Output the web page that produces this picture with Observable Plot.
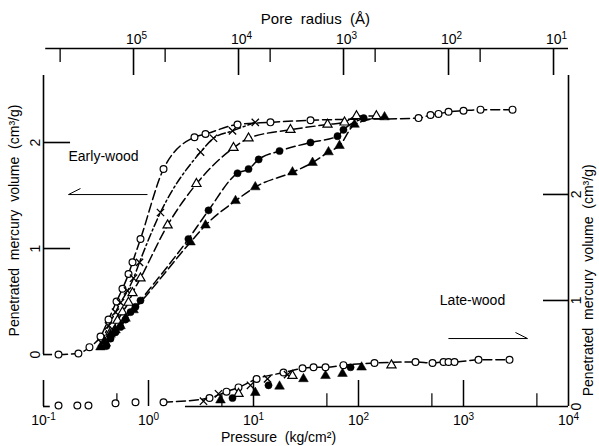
<!DOCTYPE html>
<html><head><meta charset="utf-8">
<script src="https://cdn.jsdelivr.net/npm/d3@7"></script>
<script src="https://cdn.jsdelivr.net/npm/@observablehq/plot@0.6"></script>
<style>body{margin:0;background:#fff}</style>
</head><body><div id="chart"></div>
<script>
// ---------- Early-wood (left axis, cm3/g) ----------
const earlyOpenCircleP = [0.139,0.215,0.274,0.349,0.416,0.496,0.565,0.645,0.704,0.839,1.39,2.74,3.49,7.04,14.5,34.9,373,485,578,720,1000,1452,2930];
const earlyOpenCircleV = [0.00,0.01,0.07,0.17,0.33,0.50,0.62,0.76,0.87,1.09,1.75,2.05,2.08,2.17,2.19,2.21,2.23,2.26,2.27,2.29,2.30,2.31,2.31];
const earlyCrossP = [0.357,0.416,0.485,0.541,0.631,0.720,0.821,1.30,3.13,4.16,6.31,10.4];
const earlyCrossV = [0.11,0.27,0.40,0.49,0.60,0.72,0.87,1.34,1.91,2.04,2.11,2.19];
const earlyOpenTriP = [0.389,0.435,0.507,0.565,0.645,0.704,0.839,1.52,2.86,6.45,8.97,22.5,50.7,73.6,95.7,148];
const earlyOpenTriV = [0.11,0.21,0.32,0.40,0.49,0.58,0.72,1.22,1.61,1.95,2.04,2.12,2.17,2.19,2.25,2.25];
const earlyFilledCircleP = [0.398,0.435,0.485,0.541,0.604,0.674,0.752,0.839,2.40,3.73,7.04,8.97,11.2,17.7,34.9,63.1,71.9,112];
const earlyFilledCircleV = [0.08,0.15,0.21,0.26,0.33,0.40,0.45,0.51,1.09,1.36,1.71,1.75,1.84,1.92,2.00,2.06,2.12,2.23];
const earlyFilledTriP = [0.349,0.381,0.435,0.485,0.541,0.604,0.720,2.51,3.49,6.74,10.4,23.5,36.5,51.8,65.9,91.6,177];
const earlyFilledTriV = [0.07,0.12,0.19,0.23,0.27,0.34,0.42,1.06,1.22,1.45,1.58,1.72,1.81,1.91,1.97,2.17,2.24];

// ---------- Late-wood (right axis, cm3/g) ----------
const lateOpenCircleP = [0.139,0.21,0.268,0.485,0.752,1.39,3.81,5.53,7.2,10.7,19.3,29.3,37.3,48.5,71.9,142,349,507,645,720,821,1389,2743];
const lateOpenCircleV = [0.01,0.01,0.01,0.03,0.04,0.04,0.08,0.14,0.18,0.26,0.32,0.36,0.37,0.37,0.39,0.41,0.42,0.41,0.42,0.42,0.42,0.44,0.44];
const lateCrossP = [3.34,4.64,9.36,13.6,21.1];
const lateCrossV = [0.05,0.12,0.20,0.26,0.30];
const lateOpenTriP = [7.2,23.5,206];
const lateOpenTriV = [0.12,0.29,0.39];
const lateFilledCircleP = [6.31,13.9,84];
const lateFilledCircleV = [0.08,0.20,0.37];
const lateFilledTriP = [4.85,10.4,17.7,29.9,48.5,70.4,107];
const lateFilledTriV = [0.06,0.13,0.19,0.26,0.29,0.31,0.37];

// ---------- Axes ----------
const rightAxisZero = -0.49;            // right-axis 0 expressed in left-axis units
const leftTicks = [0, 1, 2];
const rightTicks = [0, 1, 2];
const bottomMajor = [0.1, 1, 10, 100, 1000, 10000];
const bottomExponents = ["-1","0","1","2","3","4"];
const bottomMinor = [0.5, 5, 50, 500, 5000];
const radiusMajor = [1e5, 1e4, 1e3, 1e2, 1e1];
const radiusExponents = ["5","4","3","2","1"];
const radiusMinor = [5e5, 5e4, 5e3, 5e2, 5e1];
const washburnK = 72000;               // radius(Å) = K / pressure(kg/cm2)

const mk = (P, V, off = 0) => P.map((p, i) => ({p, v: V[i] + off}));
const eO = mk(earlyOpenCircleP, earlyOpenCircleV);
const eX = mk(earlyCrossP, earlyCrossV);
const eT = mk(earlyOpenTriP, earlyOpenTriV);
const eF = mk(earlyFilledCircleP, earlyFilledCircleV);
const eA = mk(earlyFilledTriP, earlyFilledTriV);
const lO = mk(lateOpenCircleP, lateOpenCircleV, rightAxisZero);
const lX = mk(lateCrossP, lateCrossV, rightAxisZero);
const lT = mk(lateOpenTriP, lateOpenTriV, rightAxisZero);
const lF = mk(lateFilledCircleP, lateFilledCircleV, rightAxisZero);
const lA = mk(lateFilledTriP, lateFilledTriV, rightAxisZero);

const yTop = 2.632, topAxisY = 2.887;
const font = "Liberation Sans, Arial, sans-serif";
const lineOpts = {x: "p", y: "v", stroke: "black", strokeWidth: 1.5, strokeDasharray: "9,4", curve: "monotone-x"};
const openOpts = (sym) => ({x: "p", y: "v", symbol: sym, r: 3.4, fill: "white", stroke: "black", strokeWidth: 1.2});
const fillOpts = (sym) => ({x: "p", y: "v", symbol: sym, r: 3.6, fill: "black", stroke: "black", strokeWidth: 0.5});
const crossOpts = {x: "p", y: "v", symbol: "times", r: 3.4, stroke: "black", strokeWidth: 1.3};
const SUP = "\u2063";  // marker separating base and exponent, replaced by tspan below

const chart = Plot.plot({
  width: 599, height: 446,
  marginLeft: 43, marginRight: 31, marginTop: 75, marginBottom: 40,
  x: {type: "log", domain: [0.1, 10000], axis: null},
  y: {domain: [rightAxisZero, yTop], axis: null},
  style: {fontFamily: font, background: "white"},
  marks: [
    // frame pieces
    Plot.ruleX([0.1], {y1: 0, y2: yTop, strokeWidth: 1.6}),
    Plot.ruleX([0.1], {y1: rightAxisZero, y2: rightAxisZero + 0.245, strokeWidth: 1.6}),
    Plot.ruleX([10000], {y1: rightAxisZero, y2: yTop, strokeWidth: 1.6}),
    Plot.ruleY([rightAxisZero], {x1: 2.25, x2: 10000, strokeWidth: 1.6}),
    Plot.ruleY([rightAxisZero], {x1: 0.1, x2: 0.116, strokeWidth: 1.6}),
    // bottom ticks
    Plot.ruleX(bottomMajor.slice(1, 5), {y1: rightAxisZero, y2: rightAxisZero + 0.245, strokeWidth: 1.5}),
    Plot.ruleX(bottomMinor, {y1: rightAxisZero, y2: rightAxisZero + 0.12, strokeWidth: 1.2}),
    Plot.text(bottomMajor, {x: d => d, y: rightAxisZero - 0.13, text: (d, i) => "10" + SUP + bottomExponents[i], fontSize: 14, fontFamily: font}),
    // left ticks
    Plot.ruleY(leftTicks.filter(d => d > 0), {x1: 0.1, x2: 0.181, strokeWidth: 1.6}),
    Plot.ruleY([0], {x1: 0.1, x2: 0.122, strokeWidth: 1.6}),
    Plot.text(leftTicks, {x: 0.084, y: d => d, text: d => String(d), rotate: -90, fontSize: 14, fontFamily: font}),
    // right ticks
    Plot.ruleY(rightTicks.filter(d => d > 0), {y: d => d + rightAxisZero, x1: 5780, x2: 10000, strokeWidth: 1.6}),
    Plot.text(rightTicks, {x: 11920, y: d => d + rightAxisZero, text: d => String(d), rotate: -90, fontSize: 14, fontFamily: font}),
    // top (pore radius) axis
    Plot.ruleY([topAxisY], {x1: 0.105, x2: 10000, strokeWidth: 1.6}),
    Plot.ruleX(radiusMajor, {x: r => washburnK / r, y1: yTop, y2: topAxisY, strokeWidth: 1.6}),
    Plot.ruleX(radiusMinor, {x: r => washburnK / r, y1: 2.755, y2: topAxisY, strokeWidth: 1.3}),
    Plot.text(radiusMajor, {x: r => washburnK / r, y: 2.972, text: (d, i) => "10" + SUP + radiusExponents[i], dx: 3, fontSize: 14, fontFamily: font}),
    // titles
    Plot.text(["Pore\u00A0 radius\u00A0 (\u00C5)"], {x: 38.9, y: 3.16, fontSize: 15, fontFamily: font}),
    Plot.text(["Pressure\u00A0 (kg/cm\u00B2)"], {x: 17.3, y: -0.783, fontSize: 14, fontFamily: font}),
    Plot.text(["Penetrated\u00A0 mercury\u00A0 volume\u00A0 (cm\u00B3/g)"], {x: 0.053, y: 1.264, rotate: -90, fontSize: 14, fontFamily: font}),
    Plot.text(["Penetrated\u00A0 mercury\u00A0 volume\u00A0 (cm\u00B3/g)"], {x: 15500, y: 0.70, rotate: -90, fontSize: 14, fontFamily: font}),
    // annotations
    Plot.text(["Early-wood"], {x: 0.173, y: 1.868, textAnchor: "start", fontSize: 14, fontFamily: font}),
    Plot.link([{x1: 0.978, x2: 0.173, y1: 1.509, y2: 1.509}], {x1: "x1", x2: "x2", y1: "y1", y2: "y2", strokeWidth: 1}),
    Plot.link([{x1: 0.225, x2: 0.173, y1: 1.566, y2: 1.509}], {x1: "x1", x2: "x2", y1: "y1", y2: "y2", strokeWidth: 1}),
    Plot.text(["Late-wood"], {x: 1218, y: 0.509, fontSize: 14, fontFamily: font}),
    Plot.link([{x1: 718, x2: 4070, y1: 0.151, y2: 0.151}], {x1: "x1", x2: "x2", y1: "y1", y2: "y2", strokeWidth: 1}),
    Plot.link([{x1: 3126, x2: 4070, y1: 0.208, y2: 0.151}], {x1: "x1", x2: "x2", y1: "y1", y2: "y2", strokeWidth: 1}),
    // curves
    Plot.line(eO, lineOpts),
    Plot.line(eX, {...lineOpts, strokeDasharray: "8,3,2,3"}),
    Plot.line(eT, lineOpts),
    Plot.line(eF, lineOpts),
    Plot.line(eA, lineOpts),
    Plot.line(lO.filter(d => d.p > 1), lineOpts),
    // markers
    Plot.dot(eO, openOpts("circle")),
    Plot.dot(eX, crossOpts),
    Plot.dot(eT, openOpts("triangle")),
    Plot.dot(eF, fillOpts("circle")),
    Plot.dot(eA, fillOpts("triangle")),
    Plot.dot(lO, openOpts("circle")),
    Plot.dot(lX, crossOpts),
    Plot.dot(lT, openOpts("triangle")),
    Plot.dot(lF, fillOpts("circle")),
    Plot.dot(lA, fillOpts("triangle"))
  ]
});
// turn "10<SUP>n" labels into real superscripts
d3.select(chart).selectAll("text").each(function () {
  const t = this.textContent;
  if (t.includes(SUP)) {
    const [base, exp] = t.split(SUP);
    const sel = d3.select(this);
    sel.text(base);
    sel.append("tspan").attr("dy", "-0.45em").attr("font-size", "10").text(exp);
  }
});
document.getElementById("chart").appendChild(chart);
</script>
</body></html>
